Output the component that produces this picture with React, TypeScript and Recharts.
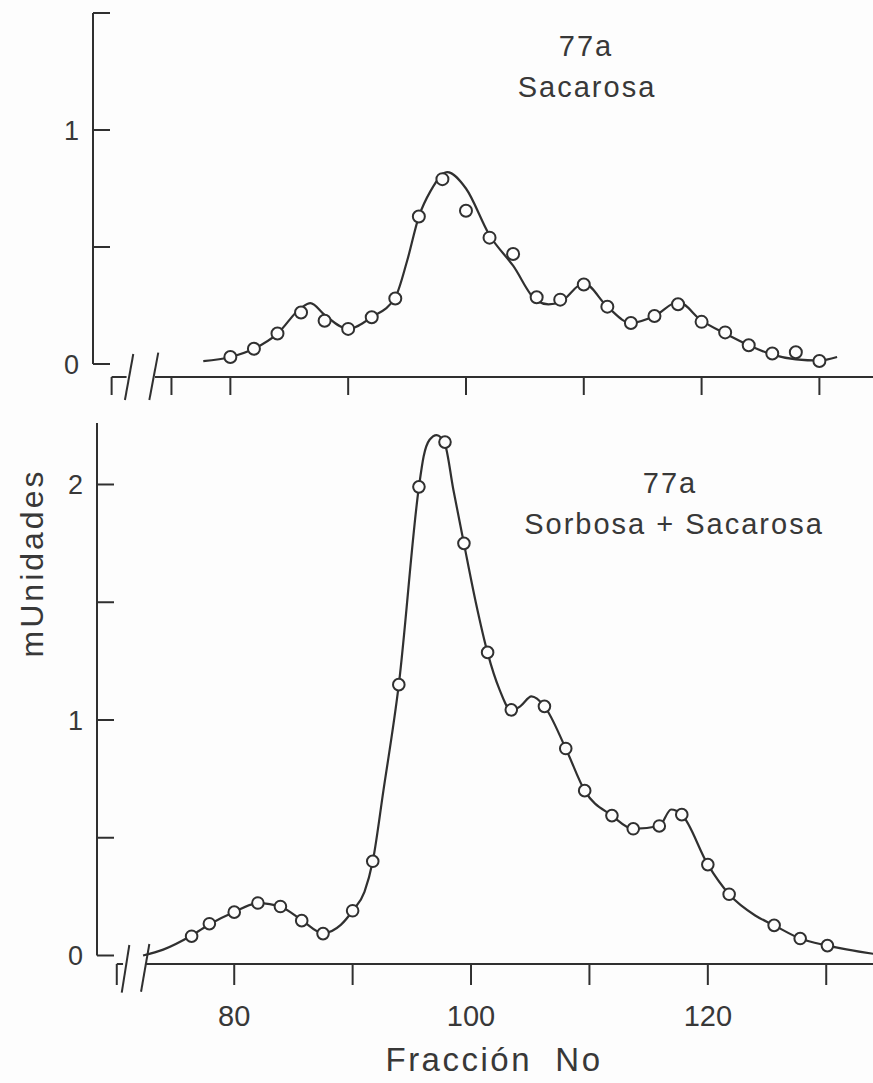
import React from "react";
import { LineChart, Line, XAxis, YAxis, ReferenceLine } from "recharts";

// Top panel: 77a Sacarosa
const topPointFractions = [80, 82, 84, 86, 88, 90, 92, 94, 96, 98, 100, 102, 104, 106, 108, 110, 112, 114, 116, 118, 120, 122, 124, 126, 128, 130];
const topPointValues = [0.03, 0.065, 0.13, 0.22, 0.185, 0.15, 0.2, 0.28, 0.63, 0.79, 0.655, 0.54, 0.47, 0.285, 0.275, 0.34, 0.245, 0.175, 0.205, 0.255, 0.18, 0.135, 0.08, 0.045, 0.05, 0.013];
const topCurveFractions = [77.7, 80, 82, 84, 86, 86.8, 88, 90, 92, 94, 95, 96, 97, 98.4, 100, 102, 104, 106, 107, 108, 110, 112, 114, 116, 118, 120, 122, 124, 126, 128, 130, 131.5];
const topCurveValues = [0.012, 0.03, 0.065, 0.13, 0.24, 0.26, 0.21, 0.15, 0.2, 0.285, 0.44, 0.63, 0.74, 0.82, 0.75, 0.55, 0.42, 0.27, 0.255, 0.265, 0.345, 0.245, 0.175, 0.205, 0.265, 0.185, 0.13, 0.08, 0.04, 0.02, 0.015, 0.03];
const topXTicks = [75, 80, 90, 100, 110, 120, 130];
const topYTicks = [0, 0.5, 1, 1.5];
const topYLabels = ["0", "", "1", ""];

// Bottom panel: 77a Sorbosa + Sacarosa
const botPointFractions = [76.4, 77.9, 80, 82, 83.9, 85.7, 87.5, 90, 91.7, 93.9, 95.6, 97.8, 99.4, 101.4, 103.4, 106.2, 108, 109.6, 111.9, 113.7, 115.9, 117.8, 120, 121.8, 125.6, 127.8, 130.1];
const botPointValues = [0.082, 0.135, 0.184, 0.223, 0.208, 0.148, 0.093, 0.19, 0.4, 1.15, 1.99, 2.18, 1.75, 1.287, 1.043, 1.058, 0.879, 0.7, 0.594, 0.538, 0.55, 0.598, 0.386, 0.26, 0.128, 0.072, 0.042];
const botCurveFractions = [72.3, 74, 76.4, 78, 80, 82, 84, 85.7, 87.5, 89, 90, 91, 91.7, 92.6, 93.9, 95.6, 96.0, 96.5, 97.1, 97.8, 98.5, 99.4, 100.4, 101.4, 102.4, 103.4, 104.2, 105.1, 106.2, 108, 109.6, 111.9, 113.7, 115.9, 116.9, 117.8, 120, 121.8, 124, 125.6, 127.8, 130.1, 134];
const botCurveValues = [0, 0.025, 0.085, 0.135, 0.185, 0.222, 0.205, 0.15, 0.095, 0.13, 0.19, 0.27, 0.4, 0.7, 1.15, 1.99, 2.12, 2.19, 2.21, 2.17, 1.98, 1.75, 1.5, 1.285, 1.13, 1.04, 1.06, 1.1, 1.058, 0.879, 0.7, 0.594, 0.538, 0.55, 0.62, 0.598, 0.386, 0.26, 0.17, 0.128, 0.072, 0.042, 0.007];
const botXTicks = [80, 90, 100, 110, 120, 130];
const botXLabels = ["80", "", "100", "", "120", ""];
const botYTicks = [0, 0.5, 1, 1.5, 2];
const botYLabels = ["0", "", "1", "", "2"];

const INK = "#303030";
const TEXT = "#383838";
const FONT = "'Liberation Sans', Arial, sans-serif";
const AXIS_W = 60;

const zip = (xs: number[], ys: number[]) => xs.map((f, i) => ({ f, v: ys[i] }));

const makeYTick = (ticks: number[], labels: string[]) => (props: any) => {
  const { x, y, payload } = props;
  const label = labels[ticks.indexOf(payload.value)];
  return (
    <g>
      <line x1={x} y1={y} x2={x + 17} y2={y} stroke={INK} strokeWidth={2} />
      {label ? (
        <text x={x - 14} y={y} dy="0.36em" textAnchor="end" fontSize={27} fill={TEXT} fontFamily={FONT}>
          {label}
        </text>
      ) : null}
    </g>
  );
};

const seg = (x1: number, y1: number, x2: number, y2: number, key: string) => (
  <ReferenceLine
    key={key}
    segment={[{ x: x1, y: y1 }, { x: x2, y: y2 }]}
    stroke={INK}
    strokeWidth={2}
    ifOverflow="visible"
  />
);

const Txt: React.FC<{ x: number; y: number; size: number; spacing?: number; rotate?: boolean; children: React.ReactNode }> = ({
  x, y, size, spacing = 0, rotate = false, children,
}) => (
  <div
    style={{
      position: "absolute",
      left: x,
      top: y,
      transform: `translate(-50%, -50%)${rotate ? " rotate(-90deg)" : ""}`,
      fontFamily: FONT,
      fontSize: size,
      letterSpacing: spacing,
      color: TEXT,
      whiteSpace: "pre",
      lineHeight: 1,
    }}>
    {children}
  </div>
);

const TOP_X: [number, number] = [68.34, 134.55];
const TOP_Y: [number, number] = [-0.0556, 1.5];
const BOT_X: [number, number] = [68.41, 133.95];
const BOT_Y: [number, number] = [-0.0361, 2.2611];

const App: React.FC = () => {
  const topCurve = zip(topCurveFractions, topCurveValues);
  const topPoints = zip(topPointFractions, topPointValues);
  const botCurve = zip(botCurveFractions, botCurveValues);
  const botPoints = zip(botPointFractions, botPointValues);

  return (
    <div style={{ position: "absolute", left: 0, top: 0, width: 873, height: 1083, background: "#fdfdfd", overflow: "hidden" }}>
      {/* top panel */}
      <div style={{ position: "absolute", left: 0, top: 0 }}>
        <LineChart width={873} height={417} margin={{ top: 13, right: 0, bottom: 0, left: 93 - AXIS_W }}>
          <XAxis
            type="number"
            dataKey="f"
            domain={TOP_X}
            allowDataOverflow
            ticks={topXTicks}
            interval={0}
            height={40}
            axisLine={false}
            tickSize={18}
            tickLine={{ stroke: INK, strokeWidth: 2 }}
            tickFormatter={() => ""}
          />
          <YAxis
            type="number"
            domain={TOP_Y}
            allowDataOverflow
            ticks={topYTicks}
            interval={0}
            width={AXIS_W}
            axisLine={false}
            tickLine={false}
            tickSize={0}
            tickMargin={0}
            tick={makeYTick(topYTicks, topYLabels)}
          />
          {seg(TOP_X[0], 0, TOP_X[0], 1.5, "yaxis")}
          {seg(73.6, TOP_Y[0], TOP_X[1], TOP_Y[0], "xaxis")}
          {seg(69.92, TOP_Y[0], 71.19, TOP_Y[0], "stub")}
          {seg(69.92, TOP_Y[0], 69.92, -0.1325, "stubtick")}
          {seg(71.76, 0.0427, 71.05, -0.1538, "brk1")}
          {seg(73.88, 0.0483, 73.12, -0.1538, "brk2")}
          <Line
            data={topCurve}
            dataKey="v"
            type="monotone"
            stroke={INK}
            strokeWidth={2.2}
            dot={false}
            isAnimationActive={false}
          />
          <Line
            data={topPoints}
            dataKey="v"
            stroke="none"
            dot={{ r: 6, fill: "#fdfdfd", stroke: INK, strokeWidth: 2 }}
            isAnimationActive={false}
          />
        </LineChart>
      </div>

      {/* bottom panel */}
      <div style={{ position: "absolute", left: 0, top: 417 }}>
        <LineChart width={873} height={617} margin={{ top: 6, right: 0, bottom: 0, left: 97 - AXIS_W }}>
          <XAxis
            type="number"
            dataKey="f"
            domain={BOT_X}
            allowDataOverflow
            ticks={botXTicks}
            interval={0}
            height={70}
            axisLine={false}
            tickSize={21}
            tickMargin={20}
            tickLine={{ stroke: INK, strokeWidth: 2 }}
            tick={{ fontSize: 29, fill: TEXT, fontFamily: FONT }}
            tickFormatter={(v: number) => botXLabels[botXTicks.indexOf(v)] ?? ""}
          />
          <YAxis
            type="number"
            domain={BOT_Y}
            allowDataOverflow
            ticks={botYTicks}
            interval={0}
            width={AXIS_W}
            axisLine={false}
            tickLine={false}
            tickSize={0}
            tickMargin={0}
            tick={makeYTick(botYTicks, botYLabels)}
          />
          {seg(BOT_X[0], 0, BOT_X[0], BOT_Y[1], "yaxis")}
          {seg(72.55, BOT_Y[0], BOT_X[1], BOT_Y[0], "xaxis")}
          {seg(70.08, BOT_Y[0], 70.61, BOT_Y[0], "stub")}
          {seg(70.08, BOT_Y[0], 70.08, -0.1253, "stubtick")}
          {seg(71.14, 0.0446, 70.5, -0.158, "brk1")}
          {seg(72.83, 0.0488, 72.13, -0.154, "brk2")}
          <Line
            data={botCurve}
            dataKey="v"
            type="monotone"
            stroke={INK}
            strokeWidth={2.2}
            dot={false}
            isAnimationActive={false}
          />
          <Line
            data={botPoints}
            dataKey="v"
            stroke="none"
            dot={{ r: 5.8, fill: "#fdfdfd", stroke: INK, strokeWidth: 2 }}
            isAnimationActive={false}
          />
        </LineChart>
      </div>

      <Txt x={586} y={46} size={29} spacing={2}>77a</Txt>
      <Txt x={587} y={87} size={29} spacing={2}>Sacarosa</Txt>
      <Txt x={670} y={483} size={29} spacing={2}>77a</Txt>
      <Txt x={674} y={524} size={29} spacing={2}>Sorbosa + Sacarosa</Txt>
      <Txt x={32} y={563} size={32} spacing={3} rotate>mUnidades</Txt>
      <Txt x={494} y={1059} size={33} spacing={2.5}>Fracción  No</Txt>
    </div>
  );
};

export default App;
